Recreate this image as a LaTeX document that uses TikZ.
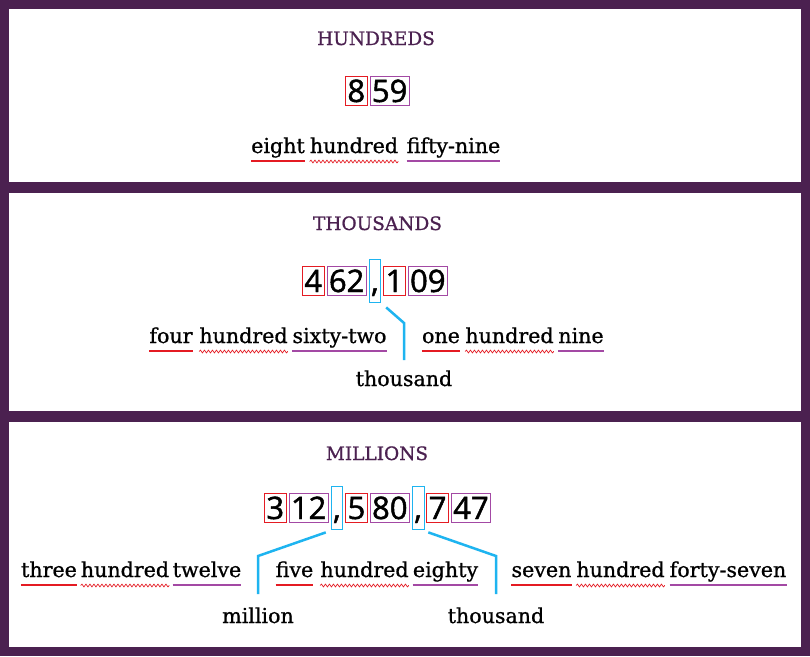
\documentclass[tikz,border=0pt]{standalone}
\usepackage{fontspec}
\setmainfont{DejaVu Serif}[FakeBold=0.9]
\newfontfamily\digitfont{Open Sans}[FakeBold=1.5]
\usetikzlibrary{positioning,decorations.pathmorphing}

\definecolor{framepurple}{RGB}{75,33,80}
\definecolor{leadred}{RGB}{228,27,35}
\definecolor{restpurple}{RGB}{163,73,164}
\definecolor{sepblue}{RGB}{30,180,240}

\tikzset{
  heading/.style={font=\fontsize{18.5}{22}\selectfont, text=framepurple, anchor=base, inner sep=0pt},
  word/.style={font=\fontsize{20.6}{24}\selectfont, anchor=base, inner sep=0pt},
  digits/.style={font=\digitfont\fontsize{31}{36}\selectfont, draw, line width=0.8pt,
    inner xsep=2pt, inner ysep=0pt, text height=26pt, text depth=3pt, anchor=base west},
  leadbox/.style={digits, draw=leadred},
  restbox/.style={digits, draw=restpurple},
  sepbox/.style={digits, draw=sepblue, text height=33pt, text depth=10pt},
  leadline/.style={leadred, line width=2pt},
  restline/.style={restpurple, line width=2pt},
  hundline/.style={leadred, line width=0.7pt, decorate,
    decoration={snake, amplitude=1.4pt, segment length=4pt}},
  link/.style={sepblue, line width=2.5pt}
}

\begin{document}
\begin{tikzpicture}[x=1pt,y=-1pt]
% frame
\fill[framepurple] (0,0) rectangle (810,656);
\fill[white] (9,9) rectangle (801,182);
\fill[white] (9,193) rectangle (801,411);
\fill[white] (9,422) rectangle (801,647);

% hundreds
\node[heading] (hh) at (376,45) {HUNDREDS};
\node[leadbox] (h1) at (345,102) {8};
\node[restbox, base right=2pt of h1] (h2) {59};
\node[word] (hw1) at (278,153) {eight};
\node[word] (hw2) at (354,153) {hundred};
\node[word] (hw3) at (453.5,153) {fifty-nine};

% thousands
\node[heading] (th) at (377.5,230) {THOUSANDS};
\node[leadbox] (t1) at (302,292) {4};
\node[restbox, base right=2pt of t1] (t2) {62};
\node[sepbox, base right=2pt of t2] (t3) {,};
\node[leadbox, base right=2pt of t3] (t4) {1};
\node[restbox, base right=2pt of t4] (t5) {09};
\node[word] (tw1) at (171,343) {four};
\node[word] (tw2) at (243.5,343) {hundred};
\node[word] (tw3) at (339.5,343) {sixty-two};
\node[word] (tw4) at (441,343) {one};
\node[word] (tw5) at (509.5,343) {hundred};
\node[word] (tw6) at (581,343) {nine};
\node[word] (tk) at (404,386) {thousand};
\coordinate (tb) at (404,323);
\draw[link] ([xshift=5pt,yshift=-5pt]t3.south east) -- (tb) -- ([yshift=10pt]tk.north);

% millions
\node[heading] (mh) at (377,460) {MILLIONS};
\node[leadbox] (m1) at (264,519) {3};
\node[restbox, base right=2pt of m1] (m2) {12};
\node[sepbox, base right=2pt of m2] (m3) {,};
\node[leadbox, base right=2pt of m3] (m4) {5};
\node[restbox, base right=2pt of m4] (m5) {80};
\node[sepbox, base right=2pt of m5] (m6) {,};
\node[leadbox, base right=2pt of m6] (m7) {7};
\node[restbox, base right=2pt of m7] (m8) {47};
\node[word] (mw1) at (49,577) {three};
\node[word] (mw2) at (125,577) {hundred};
\node[word] (mw3) at (207,577) {twelve};
\node[word] (mw4) at (294.5,577) {five};
\node[word] (mw5) at (364.5,577) {hundred};
\node[word] (mw6) at (445.5,577) {eighty};
\node[word] (mw7) at (541.5,577) {seven};
\node[word] (mw8) at (620.5,577) {hundred};
\node[word] (mw9) at (728,577) {forty-seven};
\node[word] (mm) at (258,623) {million};
\node[word] (mk) at (496,623) {thousand};
\coordinate (mb1) at (258,556);
\coordinate (mb2) at (496,556);
\draw[link] ([xshift=-5pt,yshift=-3pt]m3.south west) -- (mb1) -- ([yshift=13pt]mm.north);
\draw[link] ([xshift=4pt,yshift=-3pt]m6.south east) -- (mb2) -- ([yshift=13pt]mk.north);

% underlines
\foreach \w in {hw1,tw1,tw4,mw1,mw4,mw7}
  \draw[leadline] ([yshift=-8pt]\w.base west) -- ([yshift=-8pt]\w.base east);
\foreach \w in {hw2,tw2,tw5,mw2,mw5,mw8}
  \draw[hundline] ([yshift=-8.5pt]\w.base west) -- ([yshift=-8.5pt]\w.base east);
\foreach \w in {hw3,tw3,tw6,mw3,mw6,mw9}
  \draw[restline] ([yshift=-8pt]\w.base west) -- ([yshift=-8pt]\w.base east);
\end{tikzpicture}
\end{document}
